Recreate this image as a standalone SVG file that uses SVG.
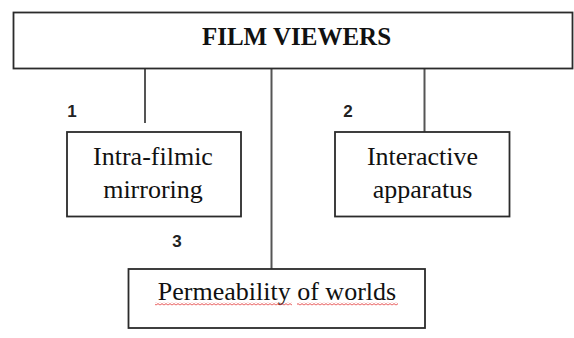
<svg xmlns="http://www.w3.org/2000/svg" width="574" height="338" viewBox="0 0 574 338">
<style>
.box{fill:#fff;stroke:#2b2b2b;stroke-width:1.8}
.line{stroke:#555;stroke-width:2;fill:none}
.t{font-family:"Liberation Serif","Times New Roman",serif;font-size:26px;fill:#111;text-anchor:middle}
.title{font-family:"Liberation Serif","Times New Roman",serif;font-size:25px;font-weight:bold;fill:#111;text-anchor:middle}
.num{font-family:"Liberation Sans",Arial,sans-serif;font-size:17px;font-weight:bold;fill:#222;text-anchor:middle}
</style>
<defs>
<pattern id="wavy" x="0" y="0" width="4" height="3" patternUnits="userSpaceOnUse">
<path d="M0 2.2 L2 0.6 L4 2.2" stroke="#e23a3a" stroke-width="0.9" fill="none"/>
</pattern>
</defs>
<rect width="574" height="338" fill="#fff"/>
<g id="connectors">
<line class="line" x1="145" y1="68" x2="145" y2="123"/>
<line class="line" x1="271.5" y1="68" x2="271.5" y2="269"/>
<line class="line" x1="424.5" y1="68" x2="424.5" y2="132"/>
</g>
<g id="film-viewers">
<rect class="box" x="13.5" y="12.5" width="559" height="56"/>
<text class="title" x="296.5" y="44.5">FILM VIEWERS</text>
</g>
<g id="intra-filmic">
<rect class="box" x="67" y="132" width="174" height="84.5"/>
<text class="t" x="153" y="165">Intra-filmic</text>
<text class="t" x="153" y="198">mirroring</text>
</g>
<g id="interactive">
<rect class="box" x="335" y="132" width="174.5" height="84.5"/>
<text class="t" x="422.5" y="165">Interactive</text>
<text class="t" x="422.5" y="197.5">apparatus</text>
</g>
<g id="permeability">
<rect class="box" x="128.5" y="269" width="296.5" height="59"/>
<text class="t" x="277" y="300">Permeability of worlds</text>
<rect x="155" y="302.5" width="137" height="3" fill="url(#wavy)"/>
<rect x="297" y="302.5" width="101" height="3" fill="url(#wavy)"/>
</g>
<g id="labels">
<text class="num" x="72" y="117">1</text>
<text class="num" x="348" y="117">2</text>
<text class="num" x="177" y="247">3</text>
</g>
</svg>
